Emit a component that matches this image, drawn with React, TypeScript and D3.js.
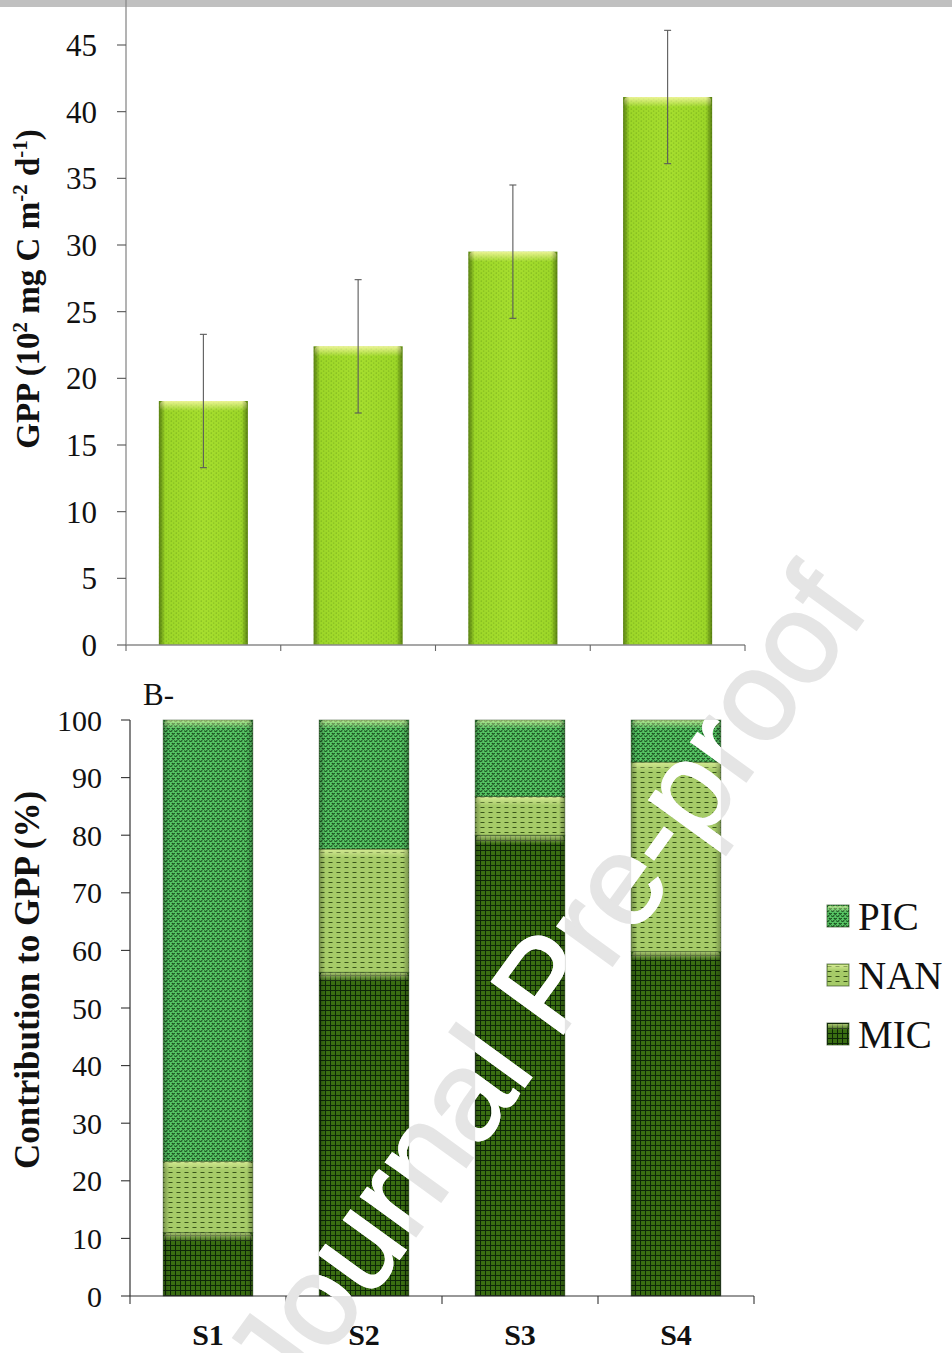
import React from 'react';
import * as d3 from 'd3';

// Sampling sites
const categories = ['S1', 'S2', 'S3', 'S4'];

// Panel A: gross primary production (10^2 mg C m-2 d-1) and its error
const gppValues = [18.3, 22.4, 29.5, 41.1];
const gppErrors = [5.0, 5.0, 5.0, 5.0];
const gppTicks = [0, 5, 10, 15, 20, 25, 30, 35, 40, 45];

// Panel B: size-fraction contribution to GPP (%)
const micShare = [11.0, 56.2, 80.0, 59.8];
const nanShare = [12.4, 21.4, 6.7, 32.9];
const picShare = [76.6, 22.4, 13.3, 7.3];
const shareTicks = [0, 10, 20, 30, 40, 50, 60, 70, 80, 90, 100];

const fractions = ['MIC', 'NAN', 'PIC'];
const legendOrder = ['PIC', 'NAN', 'MIC'];

const W = 952;
const H = 1353;
const SERIF = '"Liberation Serif", "Times New Roman", Times, serif';
const SANS = '"Liberation Sans", Arial, Helvetica, sans-serif';

const fillFor: Record<string, string> = {
  PIC: 'url(#patPIC)',
  NAN: 'url(#patNAN)',
  MIC: 'url(#patMIC)',
};

export default function App() {
  // ---- panel A scales
  const xA = d3.scaleBand<string>().domain(categories).range([126, 745]).paddingInner(0.425).paddingOuter(0.2125);
  const yA = d3.scaleLinear().domain([0, 45]).range([645, 45]);
  const stepA = xA.step();

  // ---- panel B scales
  const xB = d3.scaleBand<string>().domain(categories).range([130, 754]).paddingInner(0.425).paddingOuter(0.2125);
  const yB = d3.scaleLinear().domain([0, 100]).range([1296, 720]);
  const stepB = xB.step();

  const table = categories.map((c, i) => ({ site: c, MIC: micShare[i], NAN: nanShare[i], PIC: picShare[i] }));
  const series = d3.stack<any>().keys(fractions)(table);

  const segments: { key: string; x: number; y: number; w: number; h: number }[] = [];
  series.forEach((s) => {
    s.forEach((d: any) => {
      const x = xB(d.data.site) as number;
      segments.push({ key: s.key, x, y: yB(d[1]), w: xB.bandwidth(), h: yB(d[0]) - yB(d[1]) });
    });
  });

  const barsA = categories.map((c, i) => ({
    x: xA(c) as number,
    cx: (xA(c) as number) + xA.bandwidth() / 2,
    y: yA(gppValues[i]),
    h: yA(0) - yA(gppValues[i]),
    hi: yA(gppValues[i] + gppErrors[i]),
    lo: yA(gppValues[i] - gppErrors[i]),
  }));

  const axisA0 = yA(0);
  const axisB0 = yB(0);

  const siteLabelProps = (c: string) => ({
    x: (xB(c) as number) + xB.bandwidth() / 2,
    y: 1345,
    textAnchor: 'middle' as const,
    fontFamily: SERIF,
    fontSize: 30,
    fontWeight: 'bold' as const,
  });

  const watermarkText = 'Journal Pre-proof';
  const wmTransform = 'translate(544,984) rotate(-54)';

  return (
    <div style={{ position: 'absolute', left: 0, top: 0 }}>
      <svg width={W} height={H} viewBox={`0 0 ${W} ${H}`} style={{ display: 'block', background: '#fff' }}>
        <defs>
          {/* panel A bar body */}
          <linearGradient id="gA" x1="0" x2="1" y1="0" y2="0">
            <stop offset="0" stopColor="#7eb41a" />
            <stop offset="0.07" stopColor="#9cd628" />
            <stop offset="0.5" stopColor="#a6de2e" />
            <stop offset="0.93" stopColor="#9cd628" />
            <stop offset="1" stopColor="#7eb41a" />
          </linearGradient>
          <pattern id="patDots" width="5" height="4" patternUnits="userSpaceOnUse">
            <circle cx="1.2" cy="1" r="0.55" fill="#4d7d0c" opacity="0.75" />
            <circle cx="3.7" cy="3" r="0.55" fill="#4d7d0c" opacity="0.55" />
          </pattern>
          {/* panel B fills */}
          <pattern id="patPIC" width="5" height="5" patternUnits="userSpaceOnUse">
            <rect width="5" height="5" fill="#58c865" />
            <path d="M0.2,1.8 L2.4,0.4 M2.6,4.6 L4.8,3.2 M1.8,3 L3,3.9 M4.1,0.6 L5,1.4" stroke="#174a1d" strokeWidth="1.2" />
          </pattern>
          <pattern id="patNAN" width="8" height="5" patternUnits="userSpaceOnUse">
            <rect width="8" height="5" fill="#a6cb68" />
            <path d="M0.5,2.5 H4.5" stroke="#3a561a" strokeWidth="1" />
          </pattern>
          <pattern id="patMIC" width="5" height="5" patternUnits="userSpaceOnUse">
            <rect width="5" height="5" fill="#3a6e12" />
            <path d="M0,0.5 H5 M0.5,0 V5" stroke="#0e2608" strokeWidth="1" />
          </pattern>
          {/* bevel overlays */}
          <linearGradient id="gSides" x1="0" x2="1" y1="0" y2="0">
            <stop offset="0" stopColor="#000" stopOpacity="0.28" />
            <stop offset="0.07" stopColor="#000" stopOpacity="0" />
            <stop offset="0.93" stopColor="#000" stopOpacity="0" />
            <stop offset="1" stopColor="#000" stopOpacity="0.28" />
          </linearGradient>
          <linearGradient id="gTop" x1="0" x2="0" y1="0" y2="1">
            <stop offset="0" stopColor="#fffbb0" stopOpacity="0.8" />
            <stop offset="1" stopColor="#fffbb0" stopOpacity="0" />
          </linearGradient>
          <linearGradient id="gTopB" x1="0" x2="0" y1="0" y2="1">
            <stop offset="0" stopColor="#f4ffb0" stopOpacity="0.6" />
            <stop offset="1" stopColor="#f4ffb0" stopOpacity="0" />
          </linearGradient>
          {/* areas where the watermark shows as pure white */}
          <clipPath id="markClip">
            {barsA.map((b, i) => (
              <rect key={'ca' + i} x={b.x} y={b.y} width={xA.bandwidth()} height={b.h} />
            ))}
            {segments.map((s, i) => (
              <rect key={'cb' + i} x={s.x} y={s.y} width={s.w} height={s.h} />
            ))}
            {categories.map((c) => (
              <text key={'cl' + c} {...siteLabelProps(c)}>
                {c}
              </text>
            ))}
          </clipPath>
        </defs>

        {/* header strip */}
        <rect x={0} y={0} width={W} height={7} fill="#c0c0c0" />

        {/* ===== Panel A ===== */}
        <g>
          {barsA.map((b, i) => (
            <g key={'ba' + i}>
              <rect x={b.x} y={b.y} width={xA.bandwidth()} height={b.h} fill="url(#gA)" />
              <rect x={b.x} y={b.y} width={xA.bandwidth()} height={b.h} fill="url(#patDots)" />
              <rect x={b.x + 1} y={b.y} width={xA.bandwidth() - 2} height={10} rx={4} fill="url(#gTop)" />
              <rect x={b.x} y={b.y} width={xA.bandwidth()} height={b.h} fill="url(#gSides)" />
            </g>
          ))}
          {/* error bars */}
          {barsA.map((b, i) => (
            <g key={'ea' + i} stroke="#5a5a5a" strokeWidth={1.1}>
              <line x1={b.cx} x2={b.cx} y1={b.hi} y2={b.lo} />
              <line x1={b.cx - 3.5} x2={b.cx + 3.5} y1={b.hi} y2={b.hi} />
              <line x1={b.cx - 3.5} x2={b.cx + 3.5} y1={b.lo} y2={b.lo} />
            </g>
          ))}
          {/* y axis */}
          <line x1={126} x2={126} y1={axisA0} y2={0} stroke="#8a8a8a" strokeWidth={1.3} />
          {gppTicks.map((t) => (
            <g key={'ta' + t}>
              <line x1={117} x2={126} y1={yA(t)} y2={yA(t)} stroke="#555" strokeWidth={1.1} />
              <text x={97} y={yA(t)} dy="0.35em" textAnchor="end" fontFamily={SERIF} fontSize={31} fill="#111">
                {t}
              </text>
            </g>
          ))}
          {/* x axis */}
          <line x1={126} x2={126 + stepA * 4} y1={axisA0} y2={axisA0} stroke="#8a8a8a" strokeWidth={1.3} />
          {d3.range(5).map((k) => (
            <line key={'xa' + k} x1={126 + stepA * k} x2={126 + stepA * k} y1={axisA0} y2={axisA0 + 6} stroke="#666" strokeWidth={1.1} />
          ))}
          <text
            transform={`translate(39, ${(yA(0) + yA(45)) / 2 - 56}) rotate(-90)`}
            textAnchor="middle"
            fontFamily={SERIF}
            fontSize={33}
            fontWeight="bold"
            fill="#111"
          >
            <tspan>GPP (10</tspan>
            <tspan dy={-12} fontSize={21}>2</tspan>
            <tspan dy={12}> mg C m</tspan>
            <tspan dy={-12} fontSize={21}>-2</tspan>
            <tspan dy={12}> d</tspan>
            <tspan dy={-12} fontSize={21}>-1</tspan>
            <tspan dy={12}>)</tspan>
          </text>
        </g>

        {/* ===== Panel B ===== */}
        <g>
          <text x={143} y={705} fontFamily={SERIF} fontSize={31} fill="#111">
            B-
          </text>
          {segments.map((s, i) => (
            <g key={'sb' + i}>
              <rect x={s.x} y={s.y} width={s.w} height={s.h} fill={fillFor[s.key]} />
              <rect x={s.x + 1} y={s.y} width={s.w - 2} height={Math.min(9, s.h)} rx={4} fill="url(#gTopB)" />
              <rect x={s.x} y={s.y} width={s.w} height={s.h} fill="url(#gSides)" />
              <rect x={s.x} y={s.y} width={s.w} height={s.h} fill="none" stroke="#1e3a10" strokeOpacity={0.55} strokeWidth={0.8} />
            </g>
          ))}
          {/* y axis */}
          <line x1={130} x2={130} y1={axisB0} y2={yB(100)} stroke="#333" strokeWidth={1.2} />
          {shareTicks.map((t) => (
            <g key={'tb' + t}>
              <line x1={121} x2={130} y1={yB(t)} y2={yB(t)} stroke="#333" strokeWidth={1.1} />
              <text x={102} y={yB(t)} dy="0.35em" textAnchor="end" fontFamily={SERIF} fontSize={30} fill="#111">
                {t}
              </text>
            </g>
          ))}
          {/* x axis */}
          <line x1={130} x2={130 + stepB * 4} y1={axisB0} y2={axisB0} stroke="#333" strokeWidth={1.2} />
          {d3.range(5).map((k) => (
            <line key={'xb' + k} x1={130 + stepB * k} x2={130 + stepB * k} y1={axisB0} y2={axisB0 + 8} stroke="#333" strokeWidth={1.1} />
          ))}
          {categories.map((c) => (
            <text key={'lb' + c} {...siteLabelProps(c)} fill="#111">
              {c}
            </text>
          ))}
          <text
            transform={`translate(39, ${(yB(0) + yB(100)) / 2 - 28}) rotate(-90)`}
            textAnchor="middle"
            fontFamily={SERIF}
            fontSize={35}
            fontWeight="bold"
            fill="#111"
          >
            Contribution to GPP (%)
          </text>
          {/* legend */}
          {legendOrder.map((k, i) => (
            <g key={'lg' + k} transform={`translate(827, ${905 + i * 59})`}>
              <rect width={22} height={22} fill={fillFor[k]} stroke="#1e3a10" strokeOpacity={0.6} strokeWidth={1} />
              <rect x={1} y={1} width={20} height={6} fill="url(#gTopB)" />
              <text x={31} y={25} fontFamily={SERIF} fontSize={39} fill="#111">
                {k}
              </text>
            </g>
          ))}
        </g>

        {/* watermark */}
        <text
          transform={wmTransform}
          textAnchor="middle"
          dominantBaseline="central"
          fontFamily={SANS}
          fontSize={128}
          fill="#e5e5e5"
          stroke="#e5e5e5"
          strokeWidth={2}
        >
          {watermarkText}
        </text>
        <g clipPath="url(#markClip)">
          <text
            transform={wmTransform}
            textAnchor="middle"
            dominantBaseline="central"
            fontFamily={SANS}
            fontSize={128}
            fill="#ffffff"
            stroke="#ffffff"
            strokeWidth={2}
          >
            {watermarkText}
          </text>
        </g>
      </svg>
    </div>
  );
}
